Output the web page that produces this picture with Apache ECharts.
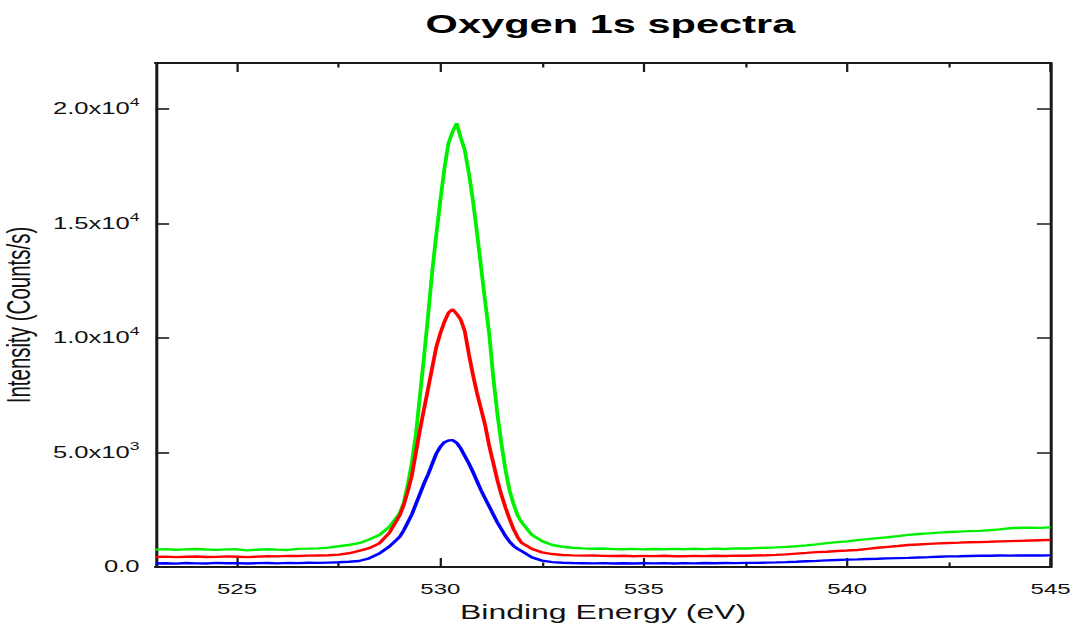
<!DOCTYPE html>
<html>
<head>
<meta charset="utf-8">
<title>Oxygen 1s spectra</title>
<script src="https://cdn.jsdelivr.net/npm/echarts@6/dist/echarts.min.js"></script>
<style>
  html, body { margin: 0; padding: 0; background: #fff; overflow: hidden; }
  /* the plot is laid out narrow and widened horizontally, giving the broad lettering */
  #chart { width: 671.25px; height: 628px; transform: scaleX(1.6); transform-origin: 0 0; }
</style>
</head>
<body>
<div id="chart"></div>
<script>
// Binding energy grid (eV)
const energy = [
  523.00, 523.25, 523.50, 523.75, 524.00, 524.25, 524.50, 524.75, 525.00, 525.25,
  525.50, 525.75, 526.00, 526.25, 526.50, 526.75, 527.00, 527.25, 527.50, 527.75,
  528.00, 528.25, 528.50, 528.75, 529.00,
  529.1, 529.2, 529.3, 529.4, 529.5, 529.6, 529.7, 529.8, 529.9, 530.0,
  530.1, 530.2, 530.3, 530.4, 530.5, 530.6, 530.7, 530.8, 530.9, 531.0,
  531.1, 531.2, 531.3, 531.4, 531.5, 531.6, 531.7, 531.8, 531.9, 532.0,
  532.25, 532.50, 532.75, 533.00, 533.25, 533.50, 533.75, 534.00, 534.25, 534.50,
  534.75, 535.00, 535.25, 535.50, 535.75, 536.00, 536.25, 536.50, 536.75, 537.00,
  537.25, 537.50, 537.75, 538.00, 538.25, 538.50, 538.75, 539.00, 539.25, 539.50,
  539.75, 540.00, 540.25, 540.50, 540.75, 541.00, 541.25, 541.50, 541.75, 542.00,
  542.25, 542.50, 542.75, 543.00, 543.25, 543.50, 543.75, 544.00, 544.25, 544.50,
  544.75, 545.00
];

// Intensity (counts/s), green trace
const greenCounts = [
  760, 778, 752, 770, 785, 762, 748, 768, 772, 725,
  756, 774, 758, 745, 792, 800, 812, 845, 905, 960,
  1040, 1200, 1400, 1760, 2350,
  2800, 3600, 4550, 5800, 7500, 9200, 11000, 12900, 14500, 16000,
  17400, 18500, 19000, 19370, 18750, 18200, 17200, 16000, 14600, 13100,
  11600, 10200, 8300, 6700, 5400, 4250, 3350, 2750, 2250, 1950,
  1400, 1130, 960, 885, 838, 812, 795, 806, 782, 775,
  790, 768, 785, 772, 790, 778, 796, 782, 800, 788,
  812, 805, 826, 840, 858, 880, 905, 945, 990, 1040,
  1085, 1120, 1175, 1215, 1260, 1300, 1345, 1400, 1440, 1470,
  1500, 1525, 1545, 1565, 1575, 1605, 1640, 1690, 1715, 1720,
  1710, 1730
];

// Intensity (counts/s), red trace
const redCounts = [
  440, 452, 431, 446, 458, 437, 442, 465, 448, 430,
  452, 470, 462, 485, 478, 495, 505, 512, 540, 600,
  700, 820, 1030, 1500, 2250,
  2700, 3300, 4000, 5000, 6000, 6900, 7800, 8700, 9600, 10200,
  10700, 11100, 11250, 11050, 10800, 10300, 9300, 8400, 7600, 6900,
  6200, 5300, 4550, 3800, 3150, 2600, 2100, 1650, 1300, 1050,
  790, 640, 565, 525, 508, 495, 502, 486, 478, 492,
  470, 484, 476, 490, 472, 468, 485, 474, 490, 478,
  495, 488, 505, 512, 530, 552, 585, 615, 648, 668,
  700, 718, 742, 790, 838, 880, 918, 960, 985, 1010,
  1030, 1048, 1062, 1080, 1088, 1100, 1118, 1130, 1142, 1158,
  1170, 1182
];

// Intensity (counts/s), blue trace
const blueCounts = [
  150, 165, 148, 172, 160, 155, 178, 162, 170, 152,
  168, 175, 160, 182, 170, 186, 178, 192, 205, 228,
  262, 380, 590, 900, 1314,
  1600, 1950, 2300, 2750, 3200, 3650, 4050, 4500, 4950, 5250,
  5450, 5520, 5540, 5420, 5180, 4850, 4520, 4150, 3750, 3350,
  3000, 2650, 2300, 1950, 1650, 1350, 1110, 920, 790, 690,
  420, 280, 212, 185, 172, 165, 158, 170, 152, 162,
  150, 165, 158, 170, 155, 168, 160, 175, 165, 172,
  168, 180, 178, 190, 200, 215, 232, 250, 268, 290,
  305, 320, 332, 350, 362, 375, 388, 400, 415, 430,
  450, 465, 472, 480, 488, 492, 505, 498, 502, 500,
  505, 506
];

// Axis tick positions
const energyMajorTicks = [525, 530, 535, 540, 545];
const energyMinorTicks = [527.5, 532.5, 537.5, 542.5];

const FONT = '"Liberation Sans", Arial, Helvetica, sans-serif';
const INK = '#111';
const AXIS_LINE = { show: true, lineStyle: { color: '#1a1a1a', width: 1.9 } };

function pairs(ys) {
  return energy.map((e, i) => [e, ys[i]]);
}

function sciLabel(v) {
  if (v === 0) return '{b|0.0}';
  const exp = Math.floor(Math.log10(v) + 1e-9);
  const mant = v / Math.pow(10, exp);
  return '{b|' + mant.toFixed(1) + 'x10}{s|' + exp + '}';
}

function energyAxis(position, ticks, len, opts) {
  return Object.assign({
    type: 'value',
    position: position,
    min: 523,
    max: 545,
    axisLine: AXIS_LINE,
    axisTick: {
      show: true, inside: true, length: len, customValues: ticks,
      lineStyle: { color: '#1a1a1a', width: 1.4 }
    },
    axisLabel: { show: false },
    splitLine: { show: false }
  }, opts || {});
}

function intensityAxis(position, opts) {
  return Object.assign({
    type: 'value',
    position: position,
    min: 0,
    max: 22000,
    interval: 5000,
    axisLine: AXIS_LINE,
    axisTick: { show: true, inside: true, length: 8.5, lineStyle: { color: '#1a1a1a', width: 1.6 } },
    axisLabel: { show: false },
    splitLine: { show: false }
  }, opts || {});
}

const chart = echarts.init(document.getElementById('chart'), null, { renderer: 'svg' });

chart.setOption({
  backgroundColor: '#ffffff',
  animation: false,
  title: {
    text: 'Oxygen 1s spectra',
    left: 261,
    top: 6,
    textStyle: { fontFamily: FONT, fontSize: 26, fontWeight: 'bold', color: '#000' }
  },
  grid: { left: 97.25, right: 14.4, top: 63, bottom: 61, outerBoundsMode: 'none', containLabel: false },
  xAxis: [
    energyAxis('bottom', energyMajorTicks, 9, {
      name: 'Binding Energy (eV)',
      nameLocation: 'middle',
      nameGap: 35,
      nameTextStyle: { fontFamily: FONT, fontSize: 20, color: INK },
      axisLabel: {
        show: true, customValues: energyMajorTicks, margin: 14,
        fontFamily: FONT, fontSize: 15, color: INK
      }
    }),
    energyAxis('bottom', energyMinorTicks, 4.5),
    energyAxis('top', energyMajorTicks, 9),
    energyAxis('top', energyMinorTicks, 4.5)
  ],
  yAxis: [
    intensityAxis('left', {
      name: 'Intensity (Counts/s)',
      nameLocation: 'middle',
      nameRotate: 90,
      nameGap: 71.5,
      nameTextStyle: { fontFamily: FONT, fontSize: 20.5, color: INK },
      axisLabel: {
        show: true,
        showMaxLabel: false,
        margin: 10,
        formatter: sciLabel,
        rich: {
          b: { fontFamily: FONT, fontSize: 16, color: INK, lineHeight: 24 },
          s: { fontFamily: FONT, fontSize: 11, color: INK, lineHeight: 11, verticalAlign: 'top' }
        }
      }
    }),
    intensityAxis('right')
  ],
  series: [
    { name: 'green', type: 'line', data: pairs(greenCounts), showSymbol: false,
      lineStyle: { color: '#00f000', width: 2.4 }, itemStyle: { color: '#00f000' } },
    { name: 'red', type: 'line', data: pairs(redCounts), showSymbol: false,
      lineStyle: { color: '#ff0000', width: 2.4 }, itemStyle: { color: '#ff0000' } },
    { name: 'blue', type: 'line', data: pairs(blueCounts), showSymbol: false,
      lineStyle: { color: '#0000ff', width: 2.4 }, itemStyle: { color: '#0000ff' } }
  ]
});
</script>
</body>
</html>
